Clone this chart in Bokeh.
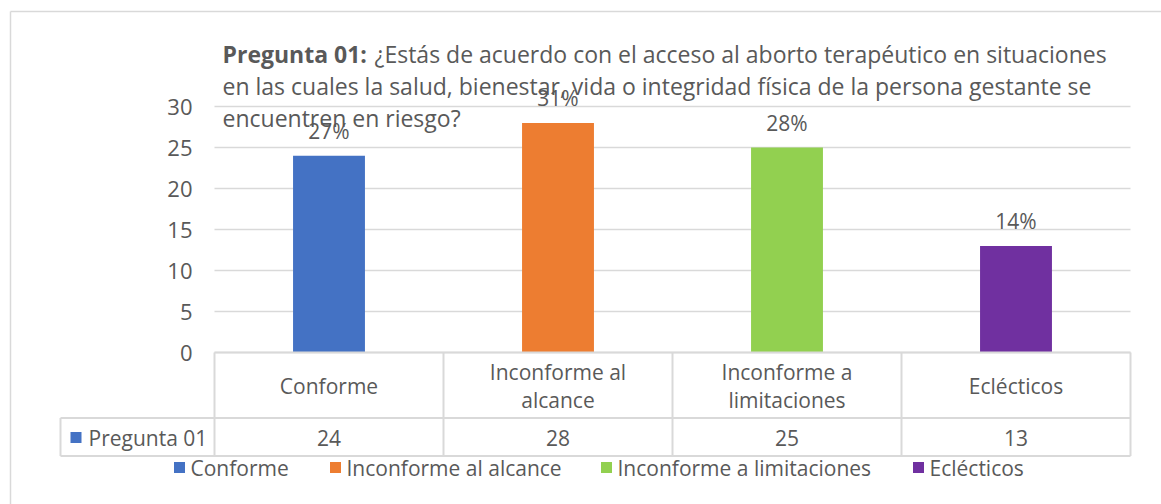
from bokeh.plotting import figure
from bokeh.models import Range1d
from bokeh.core.properties import value
from bokeh.embed import file_html
from bokeh.resources import INLINE

# ---------------- data ----------------
categories = ["Conforme", "Inconforme al alcance", "Inconforme a limitaciones", "Eclécticos"]
category_labels = ["Conforme", "Inconforme al\nalcance", "Inconforme a\nlimitaciones", "Eclécticos"]
series_name = "Pregunta 01"
values = [24, 28, 25, 13]
colors = ["#4472C4", "#ED7D31", "#92D050", "#7030A0"]
y_ticks = [0, 5, 10, 15, 20, 25, 30]
title_bold = "Pregunta 01:"
title_lines = [
    "¿Estás de acuerdo con el acceso al aborto terapéutico en situaciones",
    "en las cuales la salud, bienestar, vida o integridad física de la persona gestante se",
    "encuentren en riesgo?",
]

total = sum(values)
pct_labels = [f"{round(v / total * 100)}%" for v in values]

# ---------------- layout helpers (page pixels -> data units) ----------------
W, H = 1161, 504
PAGE = 0
COL_X0, COL_W = 214, 229       # left of first category column, column width (px)
ZERO_Y, PX_PER_UNIT = 352, 8.2  # y pixel of value 0, pixels per unit


def dx(px):
    return (px - COL_X0) / COL_W


def dy(py):
    return (ZERO_Y - py) / PX_PER_UNIT


FONT = value("Open Sans")
TXT = "#595959"
GRID = "#D9D9D9"
FS = "21px"
TFS = "23px"

p = figure(width=W, height=H, output_backend="svg", toolbar_location=None,
           x_range=Range1d(dx(PAGE), dx(PAGE + W)), y_range=Range1d(dy(PAGE + H), dy(PAGE)),
           x_axis_location=None, y_axis_location=None, min_border=0)
p.grid.visible = False
p.outline_line_color = None
p.background_fill_color = "white"
p.border_fill_color = "white"

n = len(categories)
centers = [i + 0.5 for i in range(n)]

# outer chart border
p.segment(x0=[dx(10), dx(10)], y0=[dy(11), dy(11)], x1=[dx(1200), dx(10)], y1=[dy(11), dy(600)],
          line_color=GRID, line_width=1.5)

# gridlines
p.segment(x0=[0] * len(y_ticks), x1=[n] * len(y_ticks), y0=y_ticks, y1=y_ticks,
          line_color=GRID, line_width=1.5)

# y tick labels
p.text(x=[0] * len(y_ticks), y=y_ticks, text=[str(t) for t in y_ticks], x_offset=-22,
       text_align="right", text_baseline="middle", text_font=FONT, text_font_size="22px",
       text_color=TXT)

# bars
p.vbar(x=centers, top=values, bottom=0, width=0.314, fill_color=colors, line_color=None)

# percentage labels
p.text(x=centers, y=[v + 25 / PX_PER_UNIT for v in values], text=pct_labels,
       text_align="center", text_baseline="middle", text_font=FONT, text_font_size=FS,
       text_color=TXT)

# data table
row1_y, row2_y = 417.5, 455.5
p.segment(x0=[dx(60), dx(60)], x1=[n, n], y0=[dy(row1_y), dy(row2_y)], y1=[dy(row1_y), dy(row2_y)],
          line_color=GRID, line_width=2)
p.segment(x0=list(range(n + 1)), x1=list(range(n + 1)), y0=[0] * (n + 1), y1=[dy(row2_y)] * (n + 1),
          line_color=GRID, line_width=2)
p.segment(x0=[dx(60)], x1=[dx(60)], y0=[dy(row1_y)], y1=[dy(row2_y)], line_color=GRID, line_width=2)
p.segment(x0=[0], x1=[n], y0=[0], y1=[0], line_color=GRID, line_width=2)

p.text(x=centers, y=[dy(385)] * n, text=category_labels, text_align="center",
       text_baseline="middle", text_font=FONT, text_font_size=FS, text_color=TXT,
       text_line_height=1.0)
p.text(x=centers, y=[dy(437)] * n, text=[str(v) for v in values], text_align="center",
       text_baseline="middle", text_font=FONT, text_font_size=FS, text_color=TXT)
p.scatter(x=[dx(75.5)], y=[dy(437)], marker="square", size=11, fill_color=colors[0], line_color=None)
p.text(x=[dx(88)], y=[dy(437)], text=[series_name], text_align="left", text_baseline="middle",
       text_font=FONT, text_font_size=FS, text_color=TXT)

# legend
leg_x = [179, 335, 606, 918]
p.scatter(x=[dx(x) for x in leg_x], y=[dy(467)] * n, marker="square", size=11,
          fill_color=colors, line_color=None)
p.text(x=[dx(x + 11) for x in leg_x], y=[dy(467)] * n, text=categories, text_align="left",
       text_baseline="middle", text_font=FONT, text_font_size=FS, text_color=TXT)

# title
p.text(x=[dx(222)], y=[dy(53)], text=[title_bold], text_align="left", text_baseline="middle",
       text_font=FONT, text_font_size=TFS, text_font_style="bold", text_color=TXT)
p.text(x=[dx(222)], y=[dy(53)], x_offset=152, text=[title_lines[0]], text_align="left",
       text_baseline="middle", text_font=FONT, text_font_size=TFS, text_color=TXT)
p.text(x=[dx(222)] * 2, y=[dy(85), dy(117)], text=title_lines[1:], text_align="left",
       text_baseline="middle", text_font=FONT, text_font_size=TFS, text_color=TXT)

open("out.html", "w").write(file_html(p, INLINE))
